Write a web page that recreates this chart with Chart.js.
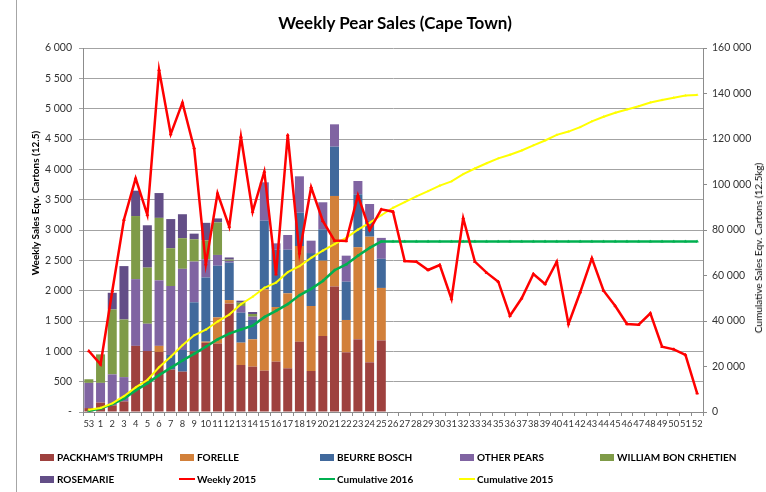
<!DOCTYPE html>
<html>
<head>
<meta charset="utf-8">
<script src="https://cdn.jsdelivr.net/npm/chart.js@4.4.0/dist/chart.umd.min.js"></script>
<style>
html,body{margin:0;padding:0;background:#fff;}
#wrap{position:relative;width:766px;height:492px;overflow:hidden;font-family:Lato,'Open Sans',sans-serif;}
#c{position:absolute;left:0;top:0;}
.t{position:absolute;white-space:nowrap;color:#000;}
#frame{position:absolute;left:16px;top:0;width:1px;height:492px;background:#a6a6a6;}
.lg{position:absolute;white-space:nowrap;font-weight:bold;font-size:10px;color:#000;line-height:12px;}
.sw{position:absolute;width:14px;height:7px;}
.ln{position:absolute;width:16px;height:2px;}
</style>
</head>
<body>
<div id="wrap">
  <div id="frame"></div>
  <canvas id="c" width="766" height="492"></canvas>
  <div class="t" id="title" style="left:395px;top:22px;transform:translate(-50%,-50%);font-weight:bold;font-size:17px;">Weekly Pear Sales (Cape Town)</div>
  <div class="t" style="left:35px;top:203px;transform:translate(-50%,-50%) rotate(-90deg);font-weight:bold;font-size:10px;">Weekly Sales Eqv. Cartons (12.5)</div>
  <div class="t" style="left:758px;top:248px;transform:translate(-50%,-50%) rotate(-90deg);font-size:10px;">Cumulative Sales Eqv. Cartons (12.5kg)</div>
  <div id="legend"></div>
</div>
<script>
// ---- data ----
const weeks = ['53','1','2','3','4','5','6','7','8','9','10','11','12','13','14','15','16','17','18','19','20','21','22','23','24','25','26','27','28','29','30','31','32','33','34','35','36','37','38','39','40','41','42','43','44','45','46','47','48','49','50','51','52'];

const packhamsTriumph = [65,155,110,175,1090,1005,990,700,665,1000,1140,1130,1790,775,747,681,830,720,1159,676,1253,2070,984,1198,819,1180];
const forelle        = [0,0,0,0,0,0,100,0,0,0,20,430,55,368,451,1341,900,1236,1577,1071,1241,1491,533,1517,2071,865];
const beurreBosch    = [0,0,0,0,0,0,0,240,357,808,1057,851,617,494,319,1132,945,719,550,873,517,813,631,873,260,480];
const otherPears     = [415,325,510,400,1100,450,1080,1137,1338,672,300,178,30,110,54,632,105,243,599,204,446,368,429,220,279,345];
const williamBon     = [60,470,1070,950,1040,925,1030,623,505,367,312,537,20,55,44,0,0,0,0,0,0,0,0,0,0,0];
const rosemarie      = [0,0,275,880,418,698,409,480,395,93,289,65,35,33,33,0,0,0,0,0,0,0,0,0,0,0];

const weekly2015 = [1005,786,1990,3170,3850,3250,5640,4580,5100,4350,2434,3604,3055,4538,3302,3961,2269,4566,2616,3704,3150,2825,2820,3570,3000,3340,3302,2489,2478,2341,2423,1863,3193,2478,2297,2148,1588,1874,2275,2110,2478,1451,1973,2533,2000,1747,1451,1440,1627,1077,1033,940,308];

const cumulative2016 = [540,1490,3455,5860,9508,12586,16195,19375,22635,25575,28693,31884,34431,36266,37914,41700,44480,47398,51283,54107,57564,62306,64883,68691,72120,74990,74990,74990,74990,74990,74990,74990,74990,74990,74990,74990,74990,74990,74990,74990,74990,74990,74990,74990,74990,74990,74990,74990,74990,74990,74990,74990,74990];

const cumulative2015 = [1005,1791,3781,6951,10801,14051,19691,24271,29371,33721,36155,39759,42814,47352,50654,54615,56884,61450,64066,67770,70920,73745,76565,80135,83135,86475,89777,92266,94744,97085,99508,101371,104564,107042,109339,111487,113075,114949,117224,119334,121812,123263,125236,127769,129769,131516,132967,134407,136034,137111,138144,139084,139392];

const leftTicksMax = 6000, leftStep = 500;
const rightTicksMax = 160000, rightStep = 20000;

// ---- styling ----
const FONT = 'Lato';
const fmt = v => String(v).replace(/\B(?=(\d{3})+(?!\d))/g, ' ');

const bar = (label, data, color) => ({
  type:'bar', label, data, backgroundColor:color, borderWidth:0,
  yAxisID:'y', stack:'pears', order:3, barPercentage:0.77, categoryPercentage:1.0
});

const datasets = [
  bar("PACKHAM'S TRIUMPH", packhamsTriumph, '#9E413E'),
  bar('FORELLE', forelle, '#D2803A'),
  bar('BEURRE BOSCH', beurreBosch, '#41699C'),
  bar('OTHER PEARS', otherPears, '#8064A2'),
  bar('WILLIAM BON CRHETIEN', williamBon, '#7F9B48'),
  bar('ROSEMARIE', rosemarie, '#634E87'),
  {type:'line', label:'Weekly 2015', data:weekly2015, yAxisID:'y', stack:'weekly', order:0,
   borderColor:'#FF0000', backgroundColor:'#FF0000', borderWidth:2.5, tension:0,
   pointStyle:'triangle', pointRadius:1.5, pointBorderWidth:1},
  {type:'line', label:'Cumulative 2016', data:cumulative2016, yAxisID:'y1', order:2,
   borderColor:'#00B050', backgroundColor:'#00B050', borderWidth:2.5, tension:0,
   pointStyle:'triangle', pointRadius:1.5, pointBorderWidth:0.5},
  {type:'line', label:'Cumulative 2015', data:cumulative2015, yAxisID:'y1', order:1,
   borderColor:'#FFFF00', backgroundColor:'#FFFF00', borderWidth:2, tension:0,
   pointStyle:'triangle', pointRadius:1.2, pointBorderWidth:0.5}
];

new Chart(document.getElementById('c'), {
  data:{labels:weeks, datasets},
  options:{
    responsive:false, animation:false,
    layout:{padding:{left:0,right:0,top:48,bottom:60}},
    plugins:{legend:{display:false}, title:{display:false}, tooltip:{enabled:false}},
    scales:{
      x:{stacked:true, offset:true,
         grid:{display:true, drawOnChartArea:false, drawTicks:true, tickLength:4, color:'#8c8c8c', offset:true},
         border:{display:true, color:'#8c8c8c'},
         ticks:{autoSkip:false, maxRotation:0, minRotation:0, padding:2, color:'#333', font:{family:FONT, size:9.3}},
         afterFit(s){ s.height = 20; }},
      y:{stacked:true, position:'left', min:0, max:leftTicksMax,
         ticks:{stepSize:leftStep, padding:7, color:'#333', font:{family:FONT, size:10.5},
                callback:v => v === 0 ? '-' : fmt(v)},
         grid:{color:'#a3a3a3', lineWidth:1, tickLength:4},
         border:{display:true, color:'#8c8c8c'},
         afterFit(s){ s.width = 83; }},
      y1:{position:'right', min:0, max:rightTicksMax,
         ticks:{stepSize:rightStep, padding:5, color:'#333', font:{family:FONT, size:10.5}, callback:v => fmt(v)},
         grid:{drawOnChartArea:false, tickLength:4, color:'#8c8c8c'},
         border:{display:true, color:'#8c8c8c'},
         afterFit(s){ s.width = 63; }}
    }
  }
});

// ---- legend (HTML, fixed grid like the original) ----
const legendItems = [
  {t:"PACKHAM'S TRIUMPH", c:'#9E413E', k:'box'},
  {t:'FORELLE', c:'#D2803A', k:'box'},
  {t:'BEURRE BOSCH', c:'#41699C', k:'box'},
  {t:'OTHER PEARS', c:'#8064A2', k:'box'},
  {t:'WILLIAM BON CRHETIEN', c:'#7F9B48', k:'box'},
  {t:'ROSEMARIE', c:'#634E87', k:'box'},
  {t:'Weekly 2015', c:'#FF0000', k:'line'},
  {t:'Cumulative 2016', c:'#00B050', k:'line'},
  {t:'Cumulative 2015', c:'#FFFF00', k:'line'}
];
const lg = document.getElementById('legend');
legendItems.forEach((it, i) => {
  const col = i % 5, row = Math.floor(i / 5);
  const x = 40 + col * 140, y = 457 + row * 22;
  const m = document.createElement('div');
  if (it.k === 'box') { m.className = 'sw'; m.style.left = x + 'px'; m.style.top = (y - 3.5) + 'px'; }
  else { m.className = 'ln'; m.style.left = (x - 1) + 'px'; m.style.top = (y - 1) + 'px'; }
  m.style.background = it.c;
  lg.appendChild(m);
  const t = document.createElement('div');
  t.className = 'lg'; t.textContent = it.t;
  t.style.left = (x + 17) + 'px'; t.style.top = (y - 6) + 'px';
  lg.appendChild(t);
});
</script>
</body>
</html>
